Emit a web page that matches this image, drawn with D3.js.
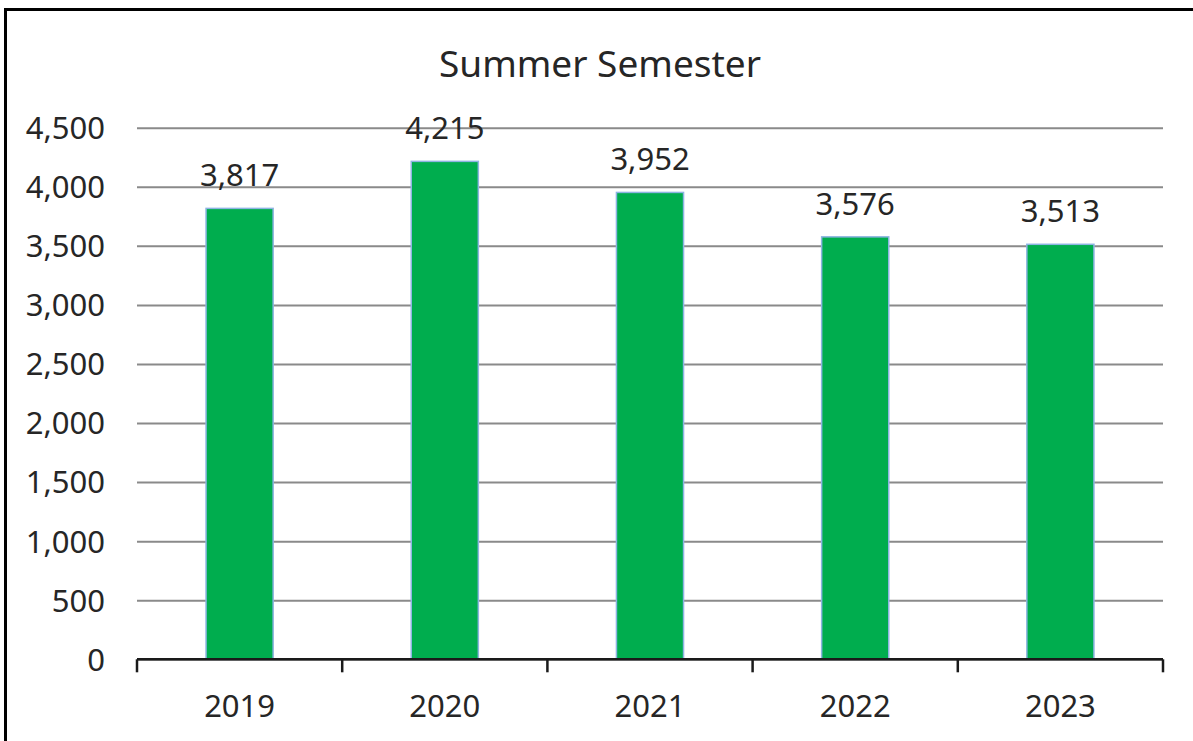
<!DOCTYPE html>
<meta charset="utf-8">
<script src="https://d3js.org/d3.v7.min.js"></script>
<style>
  body { margin: 0; background: #fff; }
  text { font-family: "Noto Sans", "Open Sans", sans-serif; fill: #262626; }
</style>
<svg id="chart" width="1193" height="741"></svg>
<script>
// data
var years = ["2019", "2020", "2021", "2022", "2023"];
var students = [3817, 4215, 3952, 3576, 3513];
var title = "Summer Semester";

var svg = d3.select("#chart"),
    width = +svg.attr("width"),
    height = +svg.attr("height");

var margin = {left: 137, right: 30, top: 127.7, bottom: 81.7};
var x0 = margin.left, x1 = width - margin.right;
var yTop = margin.top, yBot = height - margin.bottom;

// frame (only top + left are visible in the crop)
svg.append("line").attr("x1", 4).attr("x2", width).attr("y1", 9.5).attr("y2", 9.5)
  .style("stroke", "#000").style("stroke-width", 3);
svg.append("line").attr("x1", 5.5).attr("x2", 5.5).attr("y1", 8).attr("y2", height)
  .style("stroke", "#000").style("stroke-width", 3);

var x = d3.scaleBand()
    .domain(years)
    .range([x0, x1])
    .paddingInner(0.673)
    .paddingOuter(0.3365);

var y = d3.scaleLinear()
    .domain([0, 4500])
    .range([yBot, yTop]);

// gridlines + y labels
var yAxis = svg.append("g")
    .attr("transform", "translate(" + x0 + ",0)")
    .call(d3.axisLeft(y).ticks(10).tickFormat(d3.format(",")).tickSize(-(x1 - x0)).tickPadding(32));
yAxis.select(".domain").remove();
yAxis.selectAll(".tick line").style("stroke", "#8a8a8a").style("stroke-width", 2);
yAxis.selectAll(".tick text").style("font-size", "31px").attr("dy", "0.35em");

// bars
svg.selectAll("rect.bar")
  .data(students)
  .enter().append("rect")
    .attr("class", "bar")
    .attr("x", function(d, i) { return x(years[i]); })
    .attr("width", x.bandwidth())
    .attr("y", function(d) { return y(d); })
    .attr("height", function(d) { return y(0) - y(d); })
    .style("fill", "#00AD4E")
    .style("stroke", "#8DB4E2")
    .style("stroke-width", 1.5);

// value labels
svg.selectAll("text.val")
  .data(students)
  .enter().append("text")
    .attr("class", "val")
    .attr("x", function(d, i) { return x(years[i]) + x.bandwidth() / 2; })
    .attr("y", function(d) { return y(d) - 22; })
    .attr("text-anchor", "middle")
    .style("font-size", "31px")
    .text(function(d) { return d3.format(",")(d); });

// x axis line with ticks at category boundaries
svg.append("line")
  .attr("x1", x0).attr("x2", x1).attr("y1", yBot).attr("y2", yBot)
  .style("stroke", "#1a1a1a").style("stroke-width", 2.5);
var bounds = d3.range(years.length + 1).map(function(i) { return x0 + i * x.step(); });
svg.selectAll("line.xt")
  .data(bounds)
  .enter().append("line")
    .attr("class", "xt")
    .attr("x1", function(d) { return d; }).attr("x2", function(d) { return d; })
    .attr("y1", yBot).attr("y2", yBot + 13)
    .style("stroke", "#1a1a1a").style("stroke-width", 2.5);

svg.selectAll("text.xl")
  .data(years)
  .enter().append("text")
    .attr("class", "xl")
    .attr("x", function(d) { return x(d) + x.bandwidth() / 2; })
    .attr("y", 717)
    .attr("text-anchor", "middle")
    .style("font-size", "31px")
    .text(function(d) { return d; });

// title
svg.append("text")
  .attr("x", 600)
  .attr("y", 77)
  .attr("text-anchor", "middle")
  .style("font-size", "37px")
  .text(title);
</script>
